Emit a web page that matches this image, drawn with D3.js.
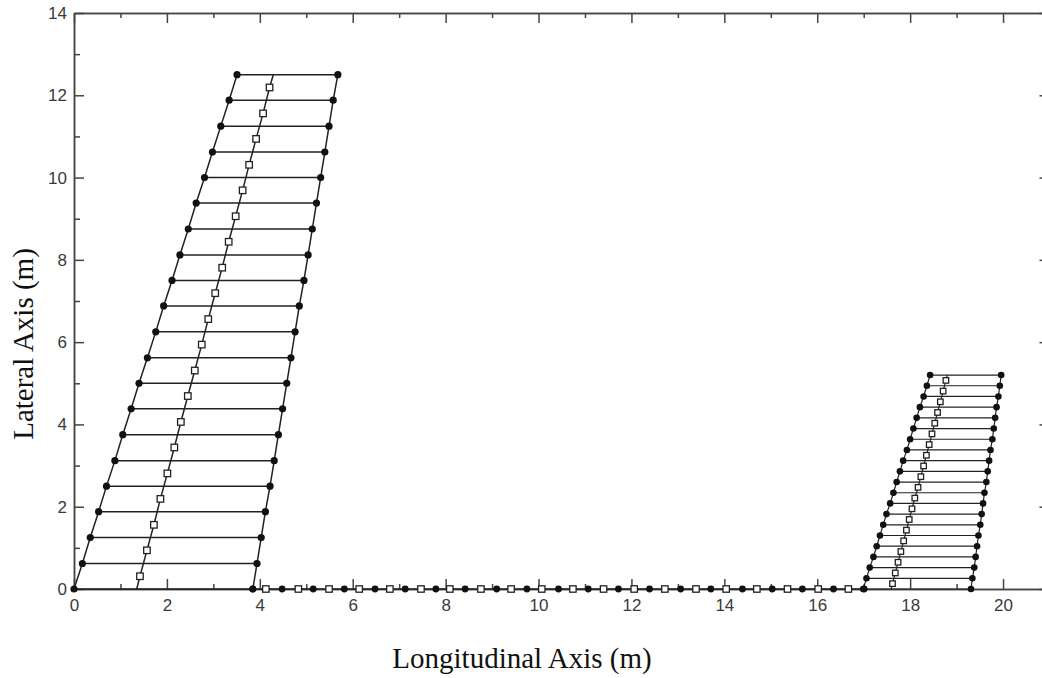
<!DOCTYPE html>
<html>
  <head>
    <script src="https://d3js.org/d3.v7.min.js"></script>
    <style>
      body { margin: 0; background: #fff; }
      .tick text { font-family: "Liberation Sans", Arial, sans-serif; font-size: 17px; fill: #3a3a3a; }
      .axis path, .axis line { stroke: #444; stroke-width: 1.5; }
    </style>
  </head>
  <body>
    <svg width="1042" height="678"></svg>
  <script>
    // left vehicle block: rows of lateral positions with left / right edge x
    const leftRowsY   = [0, 0.62, 1.25, 1.88, 2.5, 3.12, 3.75, 4.38, 5.0, 5.62, 6.25, 6.88, 7.5, 8.12, 8.75, 9.38, 10.0, 10.62, 11.25, 11.88, 12.5];
    const leftEdgeX   = [0, 0.18, 0.35, 0.53, 0.70, 0.88, 1.05, 1.23, 1.40, 1.58, 1.76, 1.93, 2.11, 2.28, 2.46, 2.63, 2.81, 2.98, 3.16, 3.34, 3.51];
    const rightEdgeX  = [3.85, 3.94, 4.03, 4.12, 4.22, 4.31, 4.40, 4.49, 4.58, 4.67, 4.76, 4.85, 4.95, 5.04, 5.13, 5.22, 5.31, 5.40, 5.49, 5.58, 5.68];
    const leftMidY    = [0.31, 0.94, 1.56, 2.19, 2.81, 3.44, 4.06, 4.69, 5.31, 5.94, 6.56, 7.19, 7.81, 8.44, 9.06, 9.69, 10.31, 10.94, 11.56, 12.19];
    const leftMidX    = [1.42, 1.57, 1.72, 1.86, 2.01, 2.16, 2.30, 2.45, 2.60, 2.75, 2.89, 3.04, 3.19, 3.33, 3.48, 3.63, 3.77, 3.92, 4.07, 4.21];
    const leftMidEnds = [[1.35, 0], [4.29, 12.5]];

    // right block
    const rRowsY      = [0, 0.26, 0.52, 0.78, 1.04, 1.30, 1.56, 1.82, 2.08, 2.34, 2.60, 2.86, 3.12, 3.38, 3.64, 3.90, 4.16, 4.42, 4.68, 4.94, 5.20];
    const rLeftX      = [16.99, 17.06, 17.13, 17.21, 17.28, 17.35, 17.42, 17.49, 17.57, 17.64, 17.71, 17.78, 17.85, 17.93, 18.00, 18.07, 18.14, 18.21, 18.29, 18.36, 18.43];
    const rRightX     = [19.31, 19.34, 19.38, 19.41, 19.44, 19.47, 19.51, 19.54, 19.57, 19.60, 19.64, 19.67, 19.70, 19.73, 19.77, 19.80, 19.83, 19.86, 19.90, 19.93, 19.96];
    const rMidY       = [0.13, 0.39, 0.65, 0.91, 1.17, 1.43, 1.69, 1.95, 2.21, 2.47, 2.73, 2.99, 3.25, 3.51, 3.77, 4.03, 4.29, 4.55, 4.81, 5.07];
    const rMidX       = [17.62, 17.68, 17.74, 17.80, 17.86, 17.92, 17.98, 18.04, 18.10, 18.17, 18.23, 18.29, 18.35, 18.41, 18.47, 18.53, 18.59, 18.65, 18.71, 18.77];
    const rMidEnds    = [[17.59, 0], [18.80, 5.2]];

    // chain along the longitudinal axis
    const chainDotsX  = [3.85, 4.48, 5.15, 5.82, 6.48, 7.13, 7.79, 8.42, 9.10, 9.75, 10.43, 11.07, 11.72, 12.39, 13.06, 13.71, 14.39, 15.03, 15.68, 16.35, 17.01];
    const chainSqX    = [4.13, 4.83, 5.49, 6.14, 6.80, 7.47, 8.09, 8.76, 9.41, 10.07, 10.74, 11.40, 12.06, 12.72, 13.39, 14.04, 14.70, 15.36, 16.02, 16.67];

    const xMajor = [0, 2, 4, 6, 8, 10, 12, 14, 16, 18, 20];
    const xMinor = [1, 3, 5, 7, 9, 11, 13, 15, 17, 19, 21];
    const yMajor = [0, 2, 4, 6, 8, 10, 12, 14];
    const yMinor = [1, 3, 5, 7, 9, 11, 13];

    const svg = d3.select('svg');
    const x = d3.scaleLinear().domain([0, 21]).range([74, 1049.5]);
    const y = d3.scaleLinear().domain([0, 14]).range([589, 13]);
    const line = d3.line().x(d => x(d[0])).y(d => y(d[1]));

    // axes, ticks pointing inward
    const addAxis = (axis, tf, vals, size, labels) => {
      const g = svg.append('g').attr('class', 'axis').attr('transform', tf)
        .call(axis.tickValues(vals).tickSizeInner(-size).tickSizeOuter(0)
          .tickPadding(labels ? 7 : 0).tickFormat(labels ? d3.format('d') : ''));
      return g;
    };
    addAxis(d3.axisBottom(x), `translate(0,${y(0)})`, xMajor, 10, true).selectAll('text').attr('dy', '0.9em');
    addAxis(d3.axisBottom(x), `translate(0,${y(0)})`, xMinor, 5, false);
    addAxis(d3.axisTop(x), `translate(0,${y(14)})`, xMajor, 10, false);
    addAxis(d3.axisTop(x), `translate(0,${y(14)})`, xMinor, 5, false);
    addAxis(d3.axisLeft(y), `translate(${x(0)},0)`, yMajor, 10, true);
    addAxis(d3.axisLeft(y), `translate(${x(0)},0)`, yMinor, 6, false);
    addAxis(d3.axisRight(y), `translate(${x(21)},0)`, yMajor, 10, false);

    const drawBlock = (rowsY, lx, rx, midX, midY, ends, r, sq, w) => {
      const g = svg.append('g');
      const leftPts = rowsY.map((v, i) => [lx[i], v]);
      const rightPts = rowsY.map((v, i) => [rx[i], v]);
      rowsY.forEach((v, i) => g.append('path').attr('d', line([[lx[i], v], [rx[i], v]]))
        .attr('stroke', '#222').attr('stroke-width', w).attr('fill', 'none'));
      [leftPts, rightPts].forEach(p => g.append('path').attr('d', line(p))
        .attr('stroke', '#222').attr('stroke-width', w).attr('fill', 'none'));
      const mid = [ends[0]].concat(midY.map((v, i) => [midX[i], v]), [ends[1]]);
      g.append('path').attr('d', line(mid)).attr('stroke', '#222').attr('stroke-width', w).attr('fill', 'none');
      g.selectAll('circle').data(leftPts.concat(rightPts)).enter().append('circle')
        .attr('cx', d => x(d[0])).attr('cy', d => y(d[1])).attr('r', r).attr('fill', '#111');
      g.selectAll('rect').data(midY.map((v, i) => [midX[i], v])).enter().append('rect')
        .attr('x', d => x(d[0]) - sq / 2).attr('y', d => y(d[1]) - sq / 2)
        .attr('width', sq).attr('height', sq)
        .attr('fill', '#fff').attr('stroke', '#222').attr('stroke-width', 1.3);
    };
    drawBlock(leftRowsY, leftEdgeX, rightEdgeX, leftMidX, leftMidY, leftMidEnds, 3.6, 6.5, 1.5);
    drawBlock(rRowsY, rLeftX, rRightX, rMidX, rMidY, rMidEnds, 3.3, 5.5, 1.2);

    // chain on y = 0
    const chain = svg.append('g');
    chain.append('path').attr('d', line([[chainDotsX[0], 0], [chainDotsX[chainDotsX.length - 1], 0]]))
      .attr('stroke', '#222').attr('stroke-width', 1.5);
    chain.selectAll('circle').data(chainDotsX).enter().append('circle')
      .attr('cx', d => x(d)).attr('cy', y(0)).attr('r', 3.4).attr('fill', '#111');
    chain.selectAll('rect').data(chainSqX).enter().append('rect')
      .attr('x', d => x(d) - 3.2).attr('y', y(0) - 3.2).attr('width', 6.4).attr('height', 6.4)
      .attr('fill', '#fff').attr('stroke', '#222').attr('stroke-width', 1.3);

    // axis titles
    svg.append('text')
      .attr('x', 522).attr('y', 668)
      .attr('text-anchor', 'middle')
      .style('font-family', '"Liberation Serif", "Times New Roman", serif')
      .style('font-size', '29px').attr('fill', '#111')
      .text('Longitudinal Axis (m)');

    svg.append('text')
      .attr('transform', 'translate(33,344) rotate(-90)')
      .attr('text-anchor', 'middle')
      .style('font-family', '"Liberation Serif", "Times New Roman", serif')
      .style('font-size', '29px').attr('fill', '#111')
      .text('Lateral Axis (m)');
  </script>
  </body>
</html>
